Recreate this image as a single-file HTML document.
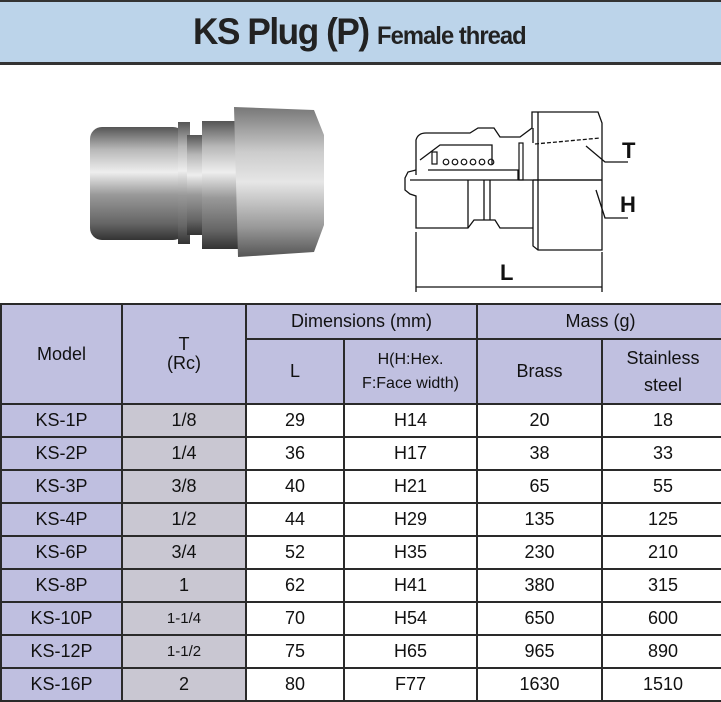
<!DOCTYPE html>
<html><head><meta charset="utf-8"><style>
*{margin:0;padding:0;box-sizing:border-box}
body{width:721px;height:697px;overflow:hidden;background:#fff;font-family:"Liberation Sans",sans-serif;position:relative}
.hdr{position:absolute;left:0;top:0;width:721px;height:65px;background:#bcd4ea;border-top:2px solid #333;border-bottom:3px solid #333}
.hdr .t{position:absolute;left:193px;top:9px;font-size:37px;font-weight:bold;letter-spacing:-1.5px;color:#222;white-space:nowrap;transform:scaleX(0.95);transform-origin:left}
.hdr .t span{font-size:25px;letter-spacing:-1px}
table{position:absolute;left:0;top:303px;border-collapse:collapse;table-layout:fixed;width:723px}
td{border:2px solid #2a2a2a;text-align:center;font-size:18px;color:#111;height:33px;padding:0;line-height:1.05}
.h{background:#c0c0e0}
.m{background:#bfbfe0}
.g{background:#c9c7d2}
</style></head><body>
<div class="hdr"><div class="t">KS Plug (P) <span>Female thread</span></div></div>

<svg style="position:absolute;left:0;top:0" width="721" height="300">
<defs>
<linearGradient id="cy" x1="0" y1="0" x2="0" y2="1">
<stop offset="0" stop-color="#555"/><stop offset="0.2" stop-color="#b8b8b8"/><stop offset="0.4" stop-color="#eee"/><stop offset="0.6" stop-color="#999"/><stop offset="0.85" stop-color="#666"/><stop offset="1" stop-color="#333"/></linearGradient>
<linearGradient id="hx" x1="0" y1="0" x2="0" y2="1">
<stop offset="0" stop-color="#777"/><stop offset="0.3" stop-color="#ccc"/><stop offset="0.5" stop-color="#e6e6e6"/><stop offset="0.8" stop-color="#999"/><stop offset="1" stop-color="#555"/></linearGradient>
</defs>
<rect x="90" y="127" width="95" height="113" rx="12" fill="url(#cy)"/>
<rect x="178" y="122" width="12" height="122" fill="url(#cy)"/>
<rect x="187" y="135" width="18" height="100" fill="url(#cy)"/>
<rect x="202" y="121" width="36" height="128" fill="url(#cy)"/>
<path d="M234 107 L314 110 L324 135 L324 225 L314 252 L238 257 Z" fill="url(#hx)"/>
<g fill="none" stroke="#111" stroke-width="1.3">
<path d="M416 175 L416 140 Q418 133 426 133 L470 133 L478 128 L494 128 L500 137 L520 137 L532 128 L532 112 L598 112 L602 123 L602 250 L598 250 L538 250 L533 246 L533 180"/>
<path d="M416 170 L408 172 L405 178 L405 190 L410 194 L416 196 L416 228 L468 228 L474 220 L495 220 L500 228 L533 228"/>
<path d="M410 180 L533 180 L602 180"/>
<path d="M533 180 L602 180 M538 112 L538 250 M533 143 L533 128"/>
<path d="M420 160 L440 145 L492 145 L492 165 M428 170 L518 170 L518 180 M468 180 L468 228 M484 180 L484 220 M490 180 L490 220"/>
<path d="M535 144 L600 138" stroke-dasharray="4 2"/>
<path d="M586 146 L605 162 L628 162 M596 190 L605 218 L628 218"/>
<path d="M416 232 L416 292 M602 252 L602 292 M416 287 L602 287"/>
</g>
<g fill="none" stroke="#111" stroke-width="1.2"><circle cx="446" cy="162" r="2.8"/><circle cx="455" cy="162" r="2.8"/><circle cx="464" cy="162" r="2.8"/><circle cx="473" cy="162" r="2.8"/><circle cx="482" cy="162" r="2.8"/><circle cx="491" cy="162" r="2.8"/><rect x="432" y="152" width="5" height="12"/><rect x="519" y="143" width="4" height="37"/></g>
<text x="622" y="158" font-size="22" font-weight="bold" fill="#111">T</text>
<text x="620" y="212" font-size="22" font-weight="bold" fill="#111">H</text>
<text x="500" y="280" font-size="22" font-weight="bold" fill="#111">L</text>
</svg>

<table>
<colgroup><col style="width:121px"><col style="width:124px"><col style="width:98px"><col style="width:133px"><col style="width:125px"><col style="width:122px"></colgroup>
<tr><td class="h" rowspan="2" style="height:100px">Model</td><td class="h" rowspan="2">T<br>(Rc)</td><td class="h" colspan="2" style="height:35px">Dimensions (mm)</td><td class="h" colspan="2">Mass (g)</td></tr>
<tr><td class="h" style="height:65px">L</td><td class="h" style="font-size:16px;line-height:1.45">H(H:Hex.<br>F:Face width)</td><td class="h">Brass</td><td class="h" style="line-height:1.5">Stainless<br>steel</td></tr>
<tr><td class="m">KS-1P</td><td class="g">1/8</td><td>29</td><td>H14</td><td>20</td><td>18</td></tr>
<tr><td class="m">KS-2P</td><td class="g">1/4</td><td>36</td><td>H17</td><td>38</td><td>33</td></tr>
<tr><td class="m">KS-3P</td><td class="g">3/8</td><td>40</td><td>H21</td><td>65</td><td>55</td></tr>
<tr><td class="m">KS-4P</td><td class="g">1/2</td><td>44</td><td>H29</td><td>135</td><td>125</td></tr>
<tr><td class="m">KS-6P</td><td class="g">3/4</td><td>52</td><td>H35</td><td>230</td><td>210</td></tr>
<tr><td class="m">KS-8P</td><td class="g">1</td><td>62</td><td>H41</td><td>380</td><td>315</td></tr>
<tr><td class="m">KS-10P</td><td class="g" style="font-size:15px">1-1/4</td><td>70</td><td>H54</td><td>650</td><td>600</td></tr>
<tr><td class="m">KS-12P</td><td class="g" style="font-size:15px">1-1/2</td><td>75</td><td>H65</td><td>965</td><td>890</td></tr>
<tr><td class="m">KS-16P</td><td class="g">2</td><td>80</td><td>F77</td><td>1630</td><td>1510</td></tr>
</table>
</body></html>
